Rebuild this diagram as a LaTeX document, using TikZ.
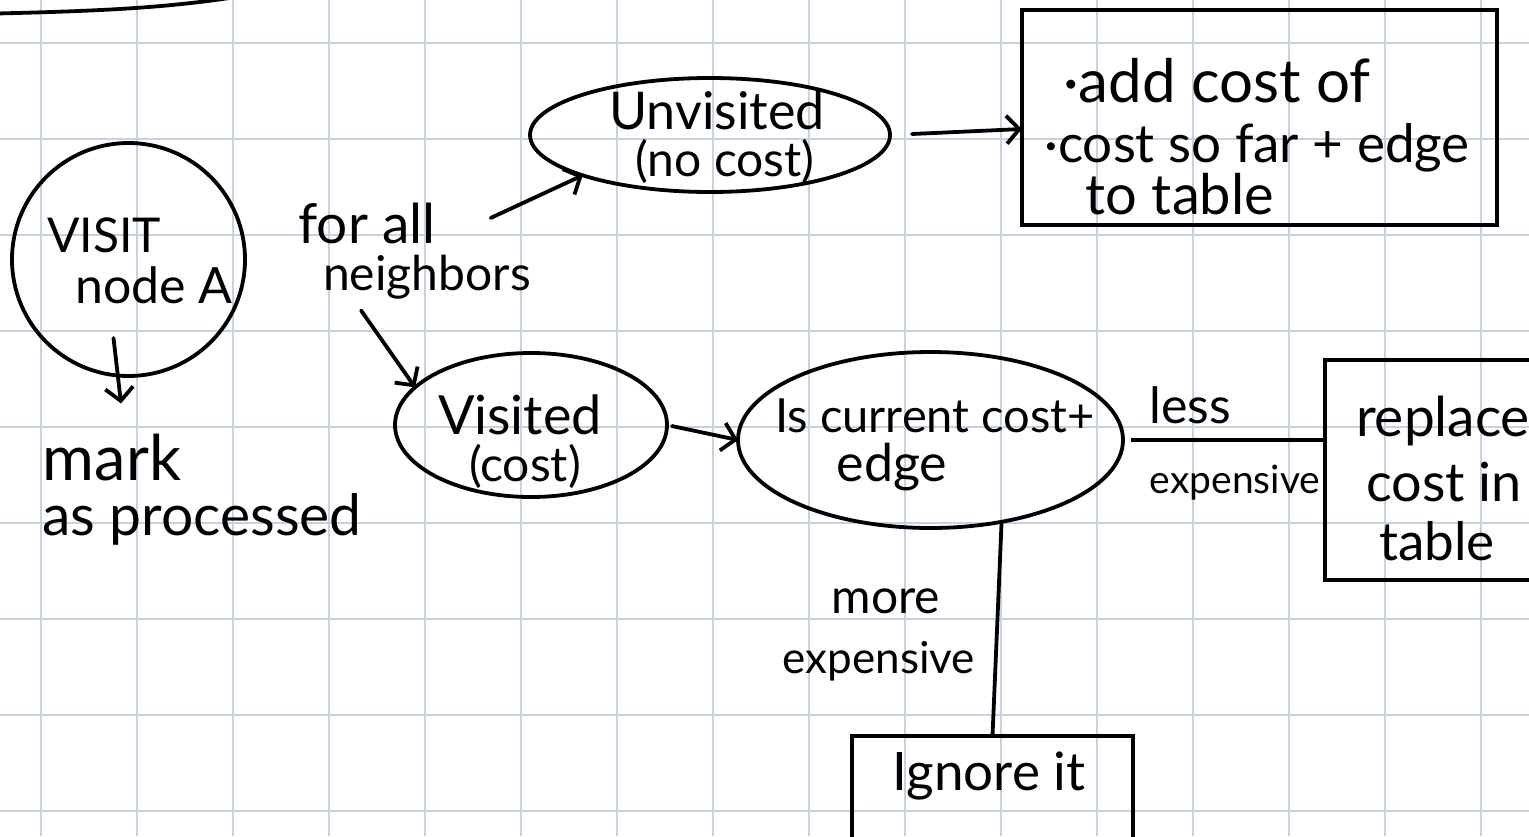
\documentclass[tikz,border=0pt]{standalone}
\usepackage{fontspec}
\setmainfont{Lato}
\usetikzlibrary{shapes.geometric,arrows.meta,calc}
\definecolor{gridblue}{RGB}{198,210,228}
\begin{document}
\begin{tikzpicture}[x=1pt,y=-1pt,
  gridline/.style={gridblue, line width=1.6pt},
  ink/.style={line width=3.8pt, draw=black},
  arr/.style={ink, line cap=round, -{Straight Barb[length=13pt,width=28pt,line width=3.8pt]}},
  oval/.style={ink, ellipse, inner sep=0pt, outer sep=0pt},
  circ/.style={ink, circle, inner sep=0pt, outer sep=0pt},
  boxnode/.style={ink, rectangle, inner sep=0pt, outer sep=0pt},
  hw/.style={inner sep=0pt, anchor=base, font=\fontsize{#1}{#1}\selectfont},
]
\useasboundingbox (0,0) rectangle (1529,836);
\clip (0,0) rectangle (1529,836);
\fill[white] (0,0) rectangle (1529,836);
% grid paper
\foreach \i in {0,...,15} \draw[gridline] ({40.7+96*\i},0) -- ({40.7+96*\i},836);
\foreach \j in {0,...,8} \draw[gridline] (0,{42.7+96*\j}) -- (1529,{42.7+96*\j});
% stray stroke at top left
\draw[ink, line cap=round] (-3,13.5) .. controls (100,11) and (165,8) .. (236,-3);

% shapes
\node[circ, minimum size=233pt] (visit) at (128.5,259.5) {};
\node[oval, minimum width=360pt, minimum height=114pt] (unvisited) at (710,135) {};
\node[oval, minimum width=272pt, minimum height=144pt] (visited) at (531,425) {};
\node[oval, minimum width=385pt, minimum height=176pt] (iscur) at (930.5,440) {};
\node[boxnode, minimum width=475pt, minimum height=215pt] (addbox) at (1259.5,117.5) {};
\node[boxnode, minimum width=240pt, minimum height=220pt] (replace) at (1445,470) {};
\node[boxnode, minimum width=281pt, minimum height=124pt] (ignore) at (992.5,798) {};

% texts
\node[hw=48] (visitA) at (104,252) {VISIT};
\node[hw=50] (visitB) at (154,303) {node A};
\node[hw=63] (mark) at (112,480) {mark};
\node[hw=57] (asproc) at (202,535) {as processed};
\node[hw=55] (forall) at (367,243) {for all};
\node[hw=48] (neigh) at (427,290) {neighbors};
\node[hw=52] (unvA) at (717,129) {Unvisited};
\node[hw=48] (unvB) at (725,176) {(no cost)};
\node[hw=60] (addA) at (1217,102) {·add cost of};
\node[hw=53] (addB) at (1257,162) {·cost so far + edge};
\node[hw=56] (addC) at (1180,214) {to table};
\node[hw=54] (visA) at (520,434) {Visited};
\node[hw=48] (visB) at (525,481) {(cost)};
\node[hw=47] (isA) at (935,432) {Is current cost+};
\node[hw=52] (isB) at (892,481) {edge};
\node[hw=50] (less) at (1190,423) {less};
\node[hw=39] (lessB) at (1235,493) {expensive};
\node[hw=55] (repA) at (1443,436) {replace};
\node[hw=54] (repB) at (1444,501) {cost in};
\node[hw=53] (repC) at (1437,560) {table};
\node[hw=48] (more) at (886,613) {more};
\node[hw=44] (moreB) at (879,673) {expensive};
\node[hw=53] (ign) at (989,790) {Ignore it};

% connectors
\draw[arr] ([shift={(-15,-38)}]visit.south) -- ([shift={(9,-30)}]mark.north);
\draw[arr] ([shift={(55,-5)}]forall.east) -- (unvisited.south west);
\draw[arr, shorten <=14pt] (neigh.south west) ++(30,0) coordinate (fa2) (fa2) -- (visited.162);
\draw[arr, shorten <=22pt] (unvisited.east) -- (addbox.west |- 0,129);
\draw[arr, shorten <=5pt] (visited.east) -- (iscur.west);
\draw[ink, shorten <=8pt] (iscur.east) -- (replace.west |- iscur.east);
\draw[ink] (iscur.-49.5) -- (ignore.north);
\end{tikzpicture}
\end{document}
